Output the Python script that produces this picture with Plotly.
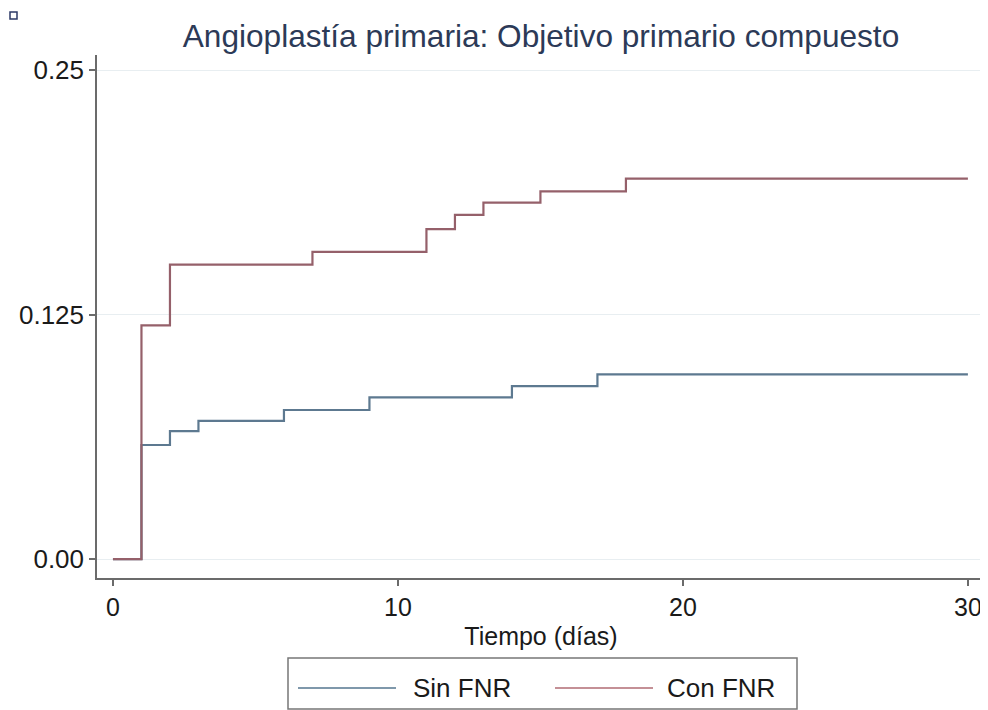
import plotly.graph_objects as go

# Data
sin_x = [0, 1, 2, 3, 6, 9, 14, 17, 30]
sin_y = [0, 0.0583, 0.0654, 0.0706, 0.0762, 0.0827, 0.0884, 0.0944, 0.0944]
con_x = [0, 1, 2, 7, 11, 12, 13, 15, 18, 30]
con_y = [0, 0.1195, 0.1505, 0.1570, 0.1687, 0.1760, 0.1822, 0.1880, 0.1945, 0.1945]
series_names = ["Sin FNR", "Con FNR"]
x_ticks = [0, 10, 20, 30]
y_ticks = [0, 0.125, 0.25]
y_tick_labels = ["0.00", "0.125", "0.25"]

blue = "#5d7990"
red = "#95606a"

OFF = 8  # page body margin
W, H = 988 - OFF, 710 - OFF
L, T = 97 - OFF, 55 - OFF
R = W - (985 - OFF)
B = H - (578 - OFF)
pw, ph = W - L - R, H - T - B

def px(xp):
    return (xp - OFF - L) / pw

def py(yp):
    return (H - B - (yp - OFF)) / ph

fig = go.Figure()
fig.add_trace(go.Scatter(x=sin_x, y=sin_y, mode="lines", line=dict(shape="hv", color=blue, width=2.2),
                         name=series_names[0], showlegend=False))
fig.add_trace(go.Scatter(x=con_x, y=con_y, mode="lines", line=dict(shape="hv", color=red, width=2.2),
                         name=series_names[1], showlegend=False))

font_fam = "Liberation Sans, Arial, Helvetica, sans-serif"

fig.update_layout(
    width=W, height=H,
    margin=dict(l=L, r=R, t=T, b=B),
    paper_bgcolor="white", plot_bgcolor="white",
    font=dict(family=font_fam, size=25, color="#1a1a1a"),
    title=dict(text="Angioplastía primaria: Objetivo primario compuesto",
               xref="paper", x=px(541), xanchor="center",
               yref="container", y=1 - (36 - OFF) / H, yanchor="middle",
               font=dict(size=31.6, color="#2c3a57", family=font_fam)),
    xaxis=dict(range=[-0.56, 30.6], tickvals=x_ticks, showgrid=False, zeroline=False,
               showline=True, linecolor="#6b6b6b", linewidth=1.5,
               ticks="outside", ticklen=6, tickcolor="#6b6b6b", tickwidth=1.5,
               title=dict(text="Tiempo (días)", standoff=8, font=dict(size=25)),
               tickfont=dict(size=25)),
    yaxis=dict(range=[-0.0097, 0.2577], tickvals=y_ticks, ticktext=y_tick_labels,
               showgrid=True, gridcolor="#e8eef1", gridwidth=1, zeroline=False,
               showline=True, linecolor="#6b6b6b", linewidth=1.5,
               ticks="outside", ticklen=6, tickcolor="#6b6b6b", tickwidth=1.5,
               tickfont=dict(size=26)),
    showlegend=False,
)

# Manual legend box
shapes = [
    dict(type="rect", xref="paper", yref="paper", x0=px(288), x1=px(797), y0=py(709), y1=py(658),
         line=dict(color="#777777", width=1.5), fillcolor="white"),
    dict(type="line", xref="paper", yref="paper", x0=px(298), x1=px(396), y0=py(688), y1=py(688),
         line=dict(color="#7f98ab", width=2)),
    dict(type="line", xref="paper", yref="paper", x0=px(555), x1=px(653), y0=py(688), y1=py(688),
         line=dict(color="#c49096", width=2)),
    dict(type="rect", xref="paper", yref="paper", x0=px(10), x1=px(17), y0=py(19), y1=py(12),
         line=dict(color="#2c3a67", width=1.5), fillcolor="white"),
]
annotations = [
    dict(xref="paper", yref="paper", x=px(411), y=py(688), text=series_names[0], showarrow=False,
         xanchor="left", yanchor="middle", font=dict(size=26, color="#1a1a1a")),
    dict(xref="paper", yref="paper", x=px(665), y=py(688), text=series_names[1], showarrow=False,
         xanchor="left", yanchor="middle", font=dict(size=26, color="#1a1a1a")),
]
fig.update_layout(shapes=shapes, annotations=annotations)

fig.write_html("out.html")
